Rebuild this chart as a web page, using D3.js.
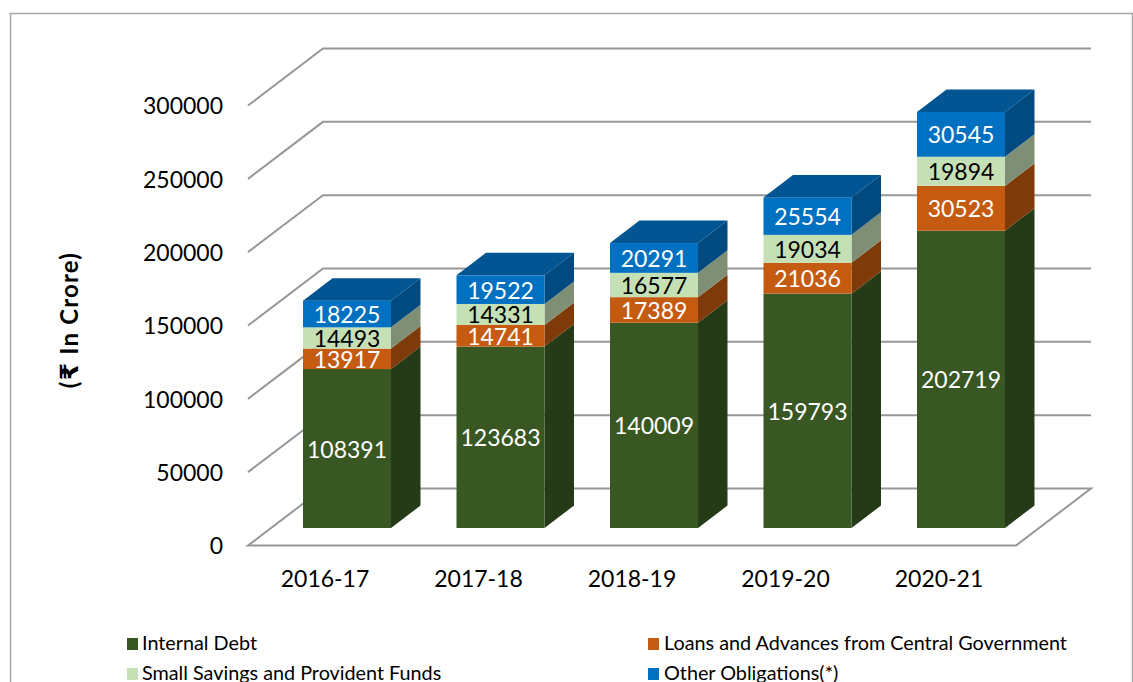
<!DOCTYPE html>
<html>
<head>
<meta charset="utf-8">
<script src="https://cdn.jsdelivr.net/npm/d3@7"></script>
<style>
html, body { margin: 0; padding: 0; background: #fff; overflow: hidden; }
svg { display: block; }
text { font-family: Lato, "Noto Sans", sans-serif; }
</style>
</head>
<body>
<svg id="chart" width="1133" height="682"></svg>
<script>
var years = ["2016-17", "2017-18", "2018-19", "2019-20", "2020-21"];
var internalDebt = [108391, 123683, 140009, 159793, 202719];
var loansAdvances = [13917, 14741, 17389, 21036, 30523];
var smallSavings = [14493, 14331, 16577, 19034, 19894];
var otherObligations = [18225, 19522, 20291, 25554, 30545];
var yTicks = [0, 50000, 100000, 150000, 200000, 250000, 300000];
var seriesNames = ["Internal Debt", "Loans and Advances from Central Government", "Small Savings and Provident Funds", "Other Obligations(*)"];
var seriesValues = [internalDebt, loansAdvances, smallSavings, otherObligations];
var frontColors = ["#385723", "#c55a11", "#c5e0b4", "#0070c0"];
var sideColors = ["#253a17", "#7f3a0a", "#7f8f75", "#004a80"];
var topColors = ["#2e4a1b", "#9c4a0e", "#9db38f", "#005592"];
var labelColors = ["#fff", "#fff", "#000", "#fff"];

var svg = d3.select("#chart");

// chart frame, runs off the right and bottom of the picture
svg.append("path")
    .attr("d", "M1132.5,682V13.5H10.5V682")
    .attr("fill", "none")
    .attr("stroke", "#a6a6a6")
    .attr("stroke-width", 1.5);

// floor plane of the 3d box
var depthX = 75, depthY = -57;
var barDepthX = 29.5, barDepthY = -22.5;
var left = 248, right = 1016;

var y = d3.scaleLinear().domain([0, 300000]).range([545.5, 105.5]);
var x = d3.scaleBand().domain(years).range([303, 1005]).paddingInner(0.4267).paddingOuter(0);

// bars stand a bit behind the front edge of the floor
var barBase = 528;
var h = d3.scaleLinear().domain([0, 300000]).range([0, 440]);

var grid = svg.append("g")
    .attr("fill", "none")
    .attr("stroke", "#979797")
    .attr("stroke-width", 2);

yTicks.forEach(function(t) {
    var yy = y(t);
    if (t == 0) return;
    grid.append("path")
        .attr("d", "M" + left + "," + yy + "L" + (left + depthX) + "," + (yy + depthY) + "H" + (right + depthX));
});
grid.append("path")
    .attr("d", "M" + left + "," + y(0) + "H" + right + "L" + (right + depthX) + "," + (y(0) + depthY) + "H" + (left + depthX) + "Z");

// y axis labels
var yAxis = d3.axisLeft(y).tickValues(yTicks).tickSize(0).tickPadding(25).tickFormat(d3.format("d"));
var gy = svg.append("g").attr("transform", "translate(" + left + ",1)").call(yAxis);
gy.select(".domain").remove();
gy.selectAll("text").attr("font-size", 23).attr("fill", "#000").style("font-family", "Lato");

// x axis labels
var xAxis = d3.axisBottom(x).tickSize(0).tickPadding(25);
var gx = svg.append("g").attr("transform", "translate(-22," + y(0) + ")").call(xAxis);
gx.select(".domain").remove();
gx.selectAll("text").attr("font-size", 23).attr("fill", "#000").style("font-family", "Lato");

// stacked bars
var bars = svg.append("g");
years.forEach(function(year, i) {
    var x0 = x(year), w = x.bandwidth();
    var sum = 0;
    seriesValues.forEach(function(vals, s) {
        var v = vals[i];
        var yBot = barBase - h(sum);
        var yTop = barBase - h(sum + v);
        sum += v;
        // side face
        bars.append("polygon")
            .attr("points", [[x0 + w, yBot], [x0 + w + barDepthX, yBot + barDepthY], [x0 + w + barDepthX, yTop + barDepthY], [x0 + w, yTop]].join(" "))
            .attr("fill", sideColors[s]);
        // front face
        bars.append("rect")
            .attr("x", x0).attr("y", yTop)
            .attr("width", w).attr("height", yBot - yTop)
            .attr("fill", frontColors[s]);
        // top face, only the last one is seen
        if (s == seriesValues.length - 1) {
            bars.append("polygon")
                .attr("points", [[x0, yTop], [x0 + barDepthX, yTop + barDepthY], [x0 + w + barDepthX, yTop + barDepthY], [x0 + w, yTop]].join(" "))
                .attr("fill", topColors[s]);
        }
        bars.append("text")
            .attr("x", x0 + w / 2)
            .attr("y", (yTop + yBot) / 2 + 9)
            .attr("text-anchor", "middle")
            .attr("font-size", 23)
            .attr("fill", labelColors[s])
            .text(v);
    });
});

// axis title, rupee sign is heavier and bigger than the rest
var title = svg.append("text")
    .attr("transform", "translate(78,320) rotate(-90)")
    .attr("text-anchor", "middle")
    .attr("font-size", 24)
    .attr("font-weight", "bold")
    .attr("letter-spacing", 1.2)
    .attr("fill", "#000");
title.append("tspan").text("(");
title.append("tspan").style("font-family", "'DejaVu Sans'").attr("font-size", 25).text("₹");
title.append("tspan").text(" In Crore)");

// legend
var legendX = [127, 648];
var legendY = [638, 668];
seriesNames.forEach(function(name, i) {
    var col = i % 2, row = Math.floor(i / 2);
    svg.append("rect")
        .attr("x", legendX[col]).attr("y", legendY[row])
        .attr("width", 11).attr("height", 12)
        .attr("fill", frontColors[i]);
    svg.append("text")
        .attr("x", legendX[col] + 15 + (col ? 1 : 0))
        .attr("y", legendY[row] + 12)
        .attr("font-size", 19.8)
        .attr("fill", "#000")
        .text(name);
});
</script>
</body>
</html>
